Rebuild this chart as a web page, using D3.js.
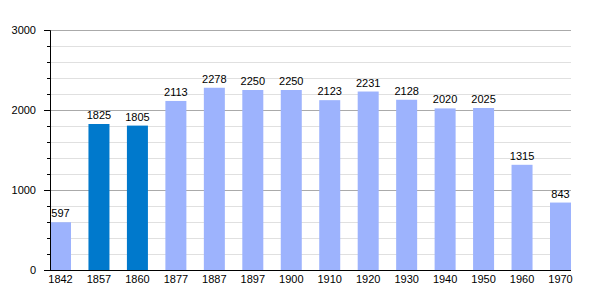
<!DOCTYPE html>
<html>
<head>
<meta charset="utf-8">
<script src="https://cdn.jsdelivr.net/npm/d3@7"></script>
<style>
  body { margin: 0; background: #fff; }
  svg text { font-family: "Liberation Sans", Arial, sans-serif; font-size: 11px; fill: #000; }
</style>
</head>
<body>
<svg id="chart" width="600" height="300"></svg>
<script>
var years = ["1842","1857","1860","1877","1887","1897","1900","1910","1920","1930","1940","1950","1960","1970"];
var population = [597,1825,1805,2113,2278,2250,2250,2123,2231,2128,2020,2025,1315,843];
var highlighted = ["1857","1860"];
var majorTicks = [0,1000,2000,3000];
var minorTicks = d3.range(0, 3001, 200);

var margin = {top: 30, right: 29, bottom: 30, left: 50},
    width = 600 - margin.left - margin.right,
    height = 300 - margin.top - margin.bottom;

var svg = d3.select("#chart");
var g = svg.append("g").attr("transform", "translate(" + margin.left + "," + margin.top + ")");

var x = d3.scaleBand()
    .domain(years)
    .range([0, width])
    .paddingInner(0.454)
    .paddingOuter(0);

var y = d3.scaleLinear()
    .domain([0, 3000])
    .range([height, 0]);

//gridlines
g.selectAll(".minor").data(minorTicks).enter().append("line")
    .attr("x1", 0).attr("x2", width)
    .attr("y1", function(d){ return y(d) + 0.5; })
    .attr("y2", function(d){ return y(d) + 0.5; })
    .style("stroke", "#e0e0e0");

g.selectAll(".major").data(majorTicks).enter().append("line")
    .attr("x1", 0).attr("x2", width)
    .attr("y1", function(d){ return y(d) + 0.5; })
    .attr("y2", function(d){ return y(d) + 0.5; })
    .style("stroke", "#aaaaaa");

//bars
g.selectAll(".bar").data(years).enter().append("rect")
    .attr("x", function(d){ return x(d); })
    .attr("width", x.bandwidth())
    .attr("y", function(d,i){ return y(population[i]); })
    .attr("height", function(d,i){ return height - y(population[i]); })
    .style("fill", function(d){ return highlighted.includes(d) ? "#0079cc" : "#9db3fd"; });

g.selectAll(".label").data(years).enter().append("text")
    .attr("x", function(d){ return x(d) + x.bandwidth() / 2; })
    .attr("y", function(d,i){ return y(population[i]) - 5; })
    .attr("text-anchor", "middle")
    .text(function(d,i){ return population[i]; });

//y axis
var yAxis = g.append("g")
    .call(d3.axisLeft(y).tickValues(majorTicks).tickSize(6).tickPadding(8).tickFormat(d3.format("d")));
yAxis.selectAll(".tick").filter(function(d){ return d === 3000; }).select("line").remove();
g.append("g")
    .call(d3.axisLeft(y).tickValues(minorTicks.filter(function(d){ return d % 1000 !== 0; })).tickSize(3).tickFormat(""))
    .select(".domain").remove();

//x axis
var xAxis = g.append("g")
    .attr("transform", "translate(0," + height + ")")
    .call(d3.axisBottom(x).tickSize(0).tickPadding(5));
xAxis.select(".domain").attr("d", "M0,0.5H" + width);

svg.selectAll(".domain").style("stroke", "#000");
svg.selectAll(".tick line").style("stroke", "#000");
svg.selectAll(".tick text").style("font-size", "11px");
</script>
</body>
</html>
